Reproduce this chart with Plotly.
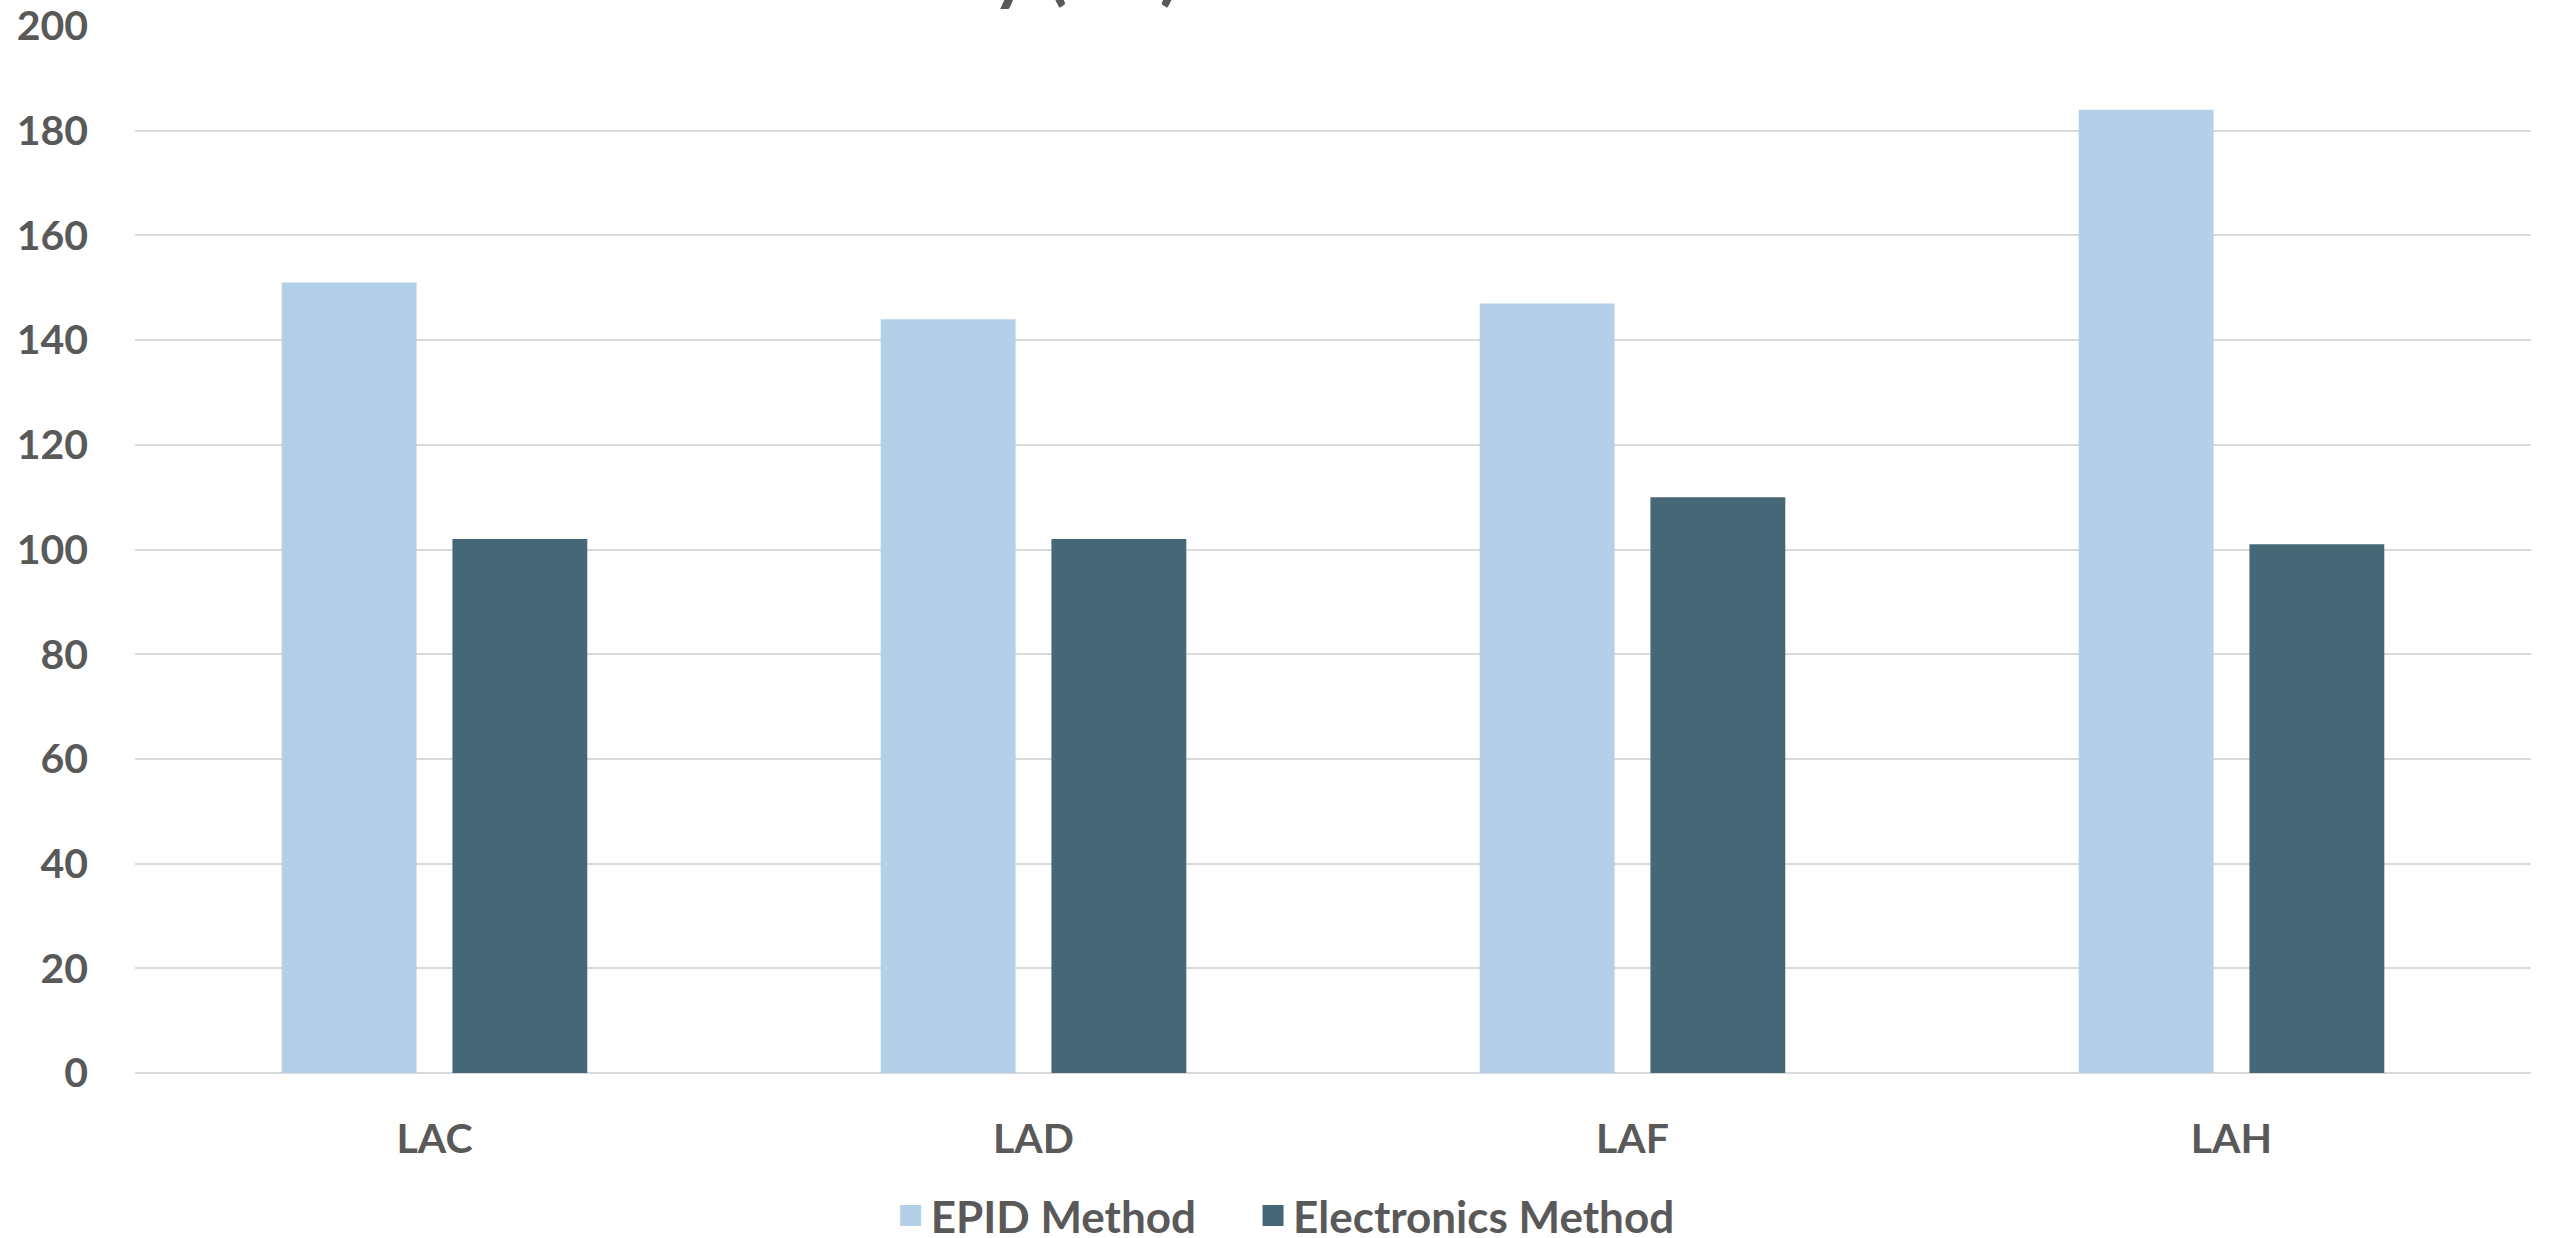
import plotly.graph_objects as go

# Chart data
categories = ["LAC", "LAD", "LAF", "LAH"]
epid_values = [151, 144, 147, 184]
electronics_values = [102, 102, 110, 101]
series_names = ["EPID Method", "Electronics Method"]
series_colors = ["#b4d0e8", "#466776"]
y_ticks = [0, 20, 40, 60, 80, 100, 120, 140, 160, 180, 200]
title_text = "Latency (ms) of the Two Methods"

TEXT = "#595959"
FONT = "Lato"

fig = go.Figure()
for name, vals, col in zip(series_names, [epid_values, electronics_values], series_colors):
    fig.add_trace(go.Bar(x=categories, y=vals, name=name, showlegend=False,
                         marker=dict(color=col, line=dict(width=0))))
# legend keys drawn as large square swatches, one legend box per series
legend_ids = ["legend", "legend2"]
for name, col, lid in zip(series_names, series_colors, legend_ids):
    fig.add_trace(go.Scatter(x=[None], y=[None], mode="markers", name=name,
                             legend=lid,
                             marker=dict(symbol="square", size=16, color=col,
                                         line=dict(width=5, color=col)),
                             hoverinfo="skip"))

legend_style = dict(orientation="h", xref="container", yref="container",
                    xanchor="left", y=0.0178, yanchor="middle",
                    font=dict(family=FONT, size=44, color=TEXT, weight="bold"),
                    itemwidth=30, itemsizing="trace", bgcolor="rgba(0,0,0,0)")

fig.update_layout(
    width=2552, height=1238,
    margin=dict(l=135, r=21, t=26, b=165, pad=0, autoexpand=False),
    paper_bgcolor="white", plot_bgcolor="white",
    barmode="group", bargap=0.43, bargroupgap=0.21,
    font=dict(family=FONT, size=41, color=TEXT, weight="bold"),
    showlegend=True,
    legend=dict(x=0.349, **legend_style),
    legend2=dict(x=0.491, **legend_style),
    annotations=[dict(text=title_text, xref="paper", yref="paper",
                      x=0.4925, xanchor="center", y=1.0115, yanchor="bottom",
                      showarrow=False,
                      font=dict(family=FONT, size=74, color=TEXT, weight="bold"))],
)

fig.update_yaxes(range=[0, 200], tickvals=y_ticks, showgrid=True,
                 gridcolor="#d9d9d9", gridwidth=2, zeroline=True,
                 zerolinecolor="#d9d9d9", zerolinewidth=2, showline=False,
                 ticks="", ticklabelstandoff=46, automargin=False,
                 tickfont=dict(family=FONT, size=41, color=TEXT, weight="bold"))
fig.update_xaxes(showgrid=False, showline=False, ticks="", ticklabelstandoff=38,
                 automargin=False,
                 tickfont=dict(family=FONT, size=41, color=TEXT, weight="bold"))

fig.write_html("out.html")
